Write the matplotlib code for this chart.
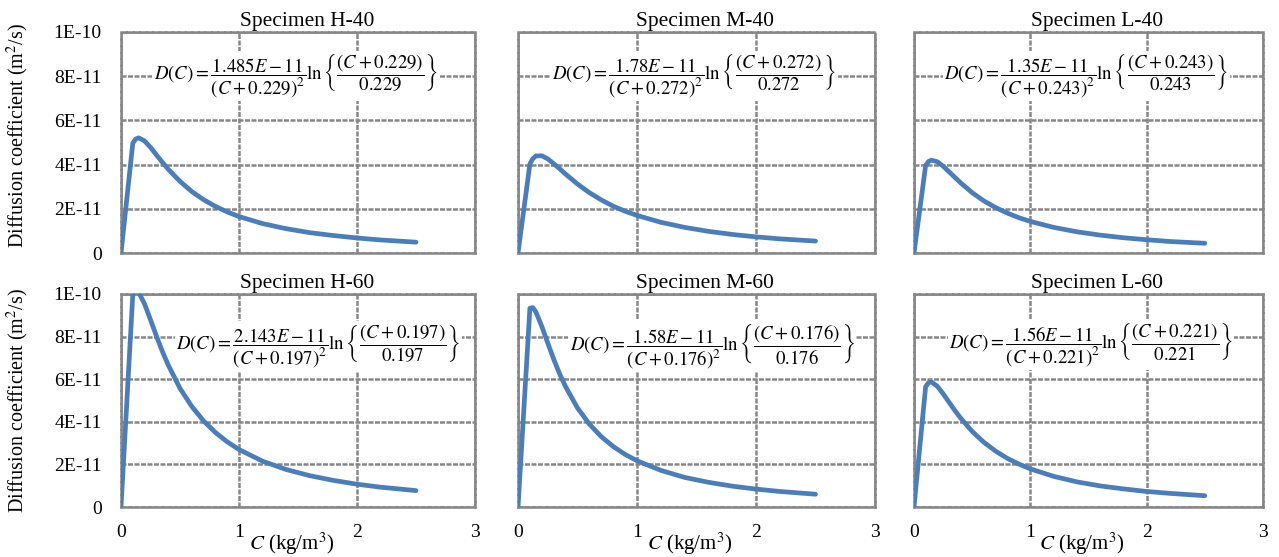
import numpy as np
import matplotlib
matplotlib.use("Agg")
import matplotlib.pyplot as plt

plt.rcParams['font.family'] = ['Liberation Serif', 'DejaVu Serif']
plt.rcParams['mathtext.fontset'] = 'stix'

# concentration C (kg/m3)
conc = [0, 0.1, 0.125, 0.15, 0.2, 0.25, 0.3, 0.35, 0.4, 0.5, 0.6, 0.7, 0.8, 0.9,
        1.0, 1.2, 1.4, 1.6, 1.8, 2.0, 2.2, 2.5]

# diffusion coefficient, in units of 1E-11 m2/s
d_h40 = [0, 4.97, 5.16, 5.21, 5.07, 4.78, 4.44, 4.11, 3.79, 3.24, 2.78, 2.41, 2.11, 1.86,
         1.65, 1.33, 1.10, 0.92, 0.79, 0.68, 0.59, 0.49]
d_m40 = [0, 4.03, 4.27, 4.39, 4.40, 4.26, 4.04, 3.81, 3.57, 3.12, 2.73, 2.40, 2.12, 1.89,
         1.70, 1.39, 1.16, 0.98, 0.84, 0.73, 0.64, 0.54]
d_l40 = [0, 3.96, 4.14, 4.20, 4.13, 3.93, 3.68, 3.43, 3.18, 2.73, 2.36, 2.06, 1.81, 1.60,
         1.43, 1.16, 0.96, 0.81, 0.69, 0.60, 0.52, 0.44]
d_h60 = [0, 9.97, 10.16, 10.08, 9.53, 8.79, 8.03, 7.31, 6.67, 5.57, 4.72, 4.04, 3.50, 3.06,
         2.70, 2.15, 1.76, 1.47, 1.25, 1.07, 0.93, 0.77]
d_m60 = [0, 9.33, 9.36, 9.16, 8.48, 7.70, 6.94, 6.25, 5.65, 4.65, 3.89, 3.30, 2.84, 2.47,
         2.17, 1.72, 1.39, 1.16, 0.98, 0.84, 0.73, 0.60]
d_l60 = [0, 5.65, 5.84, 5.87, 5.67, 5.32, 4.93, 4.54, 4.18, 3.55, 3.04, 2.63, 2.29, 2.02,
         1.79, 1.44, 1.18, 0.99, 0.85, 0.73, 0.64, 0.53]

titles = ["Specimen H-40", "Specimen M-40", "Specimen L-40",
          "Specimen H-60", "Specimen M-60", "Specimen L-60"]
coef_a = ["1.485", "1.78", "1.35", "2.143", "1.58", "1.56"]
coef_b = ["0.229", "0.272", "0.243", "0.197", "0.176", "0.221"]
series = [d_h40, d_m40, d_l40, d_h60, d_m60, d_l60]

yticks = [0, 2e-11, 4e-11, 6e-11, 8e-11, 1e-10]
ytick_labels = ["0", "2E-11", "4E-11", "6E-11", "8E-11", "1E-10"]
xticks = [0, 1, 2, 3]

W, H = 1279, 557
fig = plt.figure(figsize=(W / 100, H / 100), dpi=100)

# panel boxes in pixels: (left, right) and (top, bottom)
cols = [(121, 475), (518, 875), (914, 1263)]
rows = [(32, 253), (294, 507)]
# equation centre in data coords (x, y)
eq_pos = [(1.48, 8e-11), (1.48, 8e-11), (1.48, 8e-11),
          (1.67, 7.55e-11), (1.63, 7.55e-11), (1.52, 7.6e-11)]

grid_col = "#878787"
line_col = "#4a7ebb"
dash = (0, (2.0, 0.6))

for k in range(6):
    r, c = divmod(k, 3)
    x0, x1 = cols[c]
    y0, y1 = rows[r]
    ax = fig.add_axes([x0 / W, 1 - y1 / H, (x1 - x0) / W, (y1 - y0) / H])

    ax.plot(conc, np.array(series[k]) * 1e-11, color=line_col, linewidth=3.4,
            solid_capstyle='round', solid_joinstyle='round', zorder=3)

    ax.set_xlim(0, 3)
    ax.set_ylim(0, 1e-10)
    ax.set_yticks(yticks)
    ax.set_xticks(xticks)
    ax.grid(True, color=grid_col, linestyle=dash, linewidth=1.8, zorder=0)
    for s in ['top', 'left', 'right']:
        ax.spines[s].set_color(grid_col)
        ax.spines[s].set_linestyle(dash)
        ax.spines[s].set_linewidth(1.8)
    ax.spines['bottom'].set_color(grid_col)
    ax.spines['bottom'].set_linewidth(1.8)
    ax.tick_params(length=0, labelsize=14, pad=6)

    if c == 0:
        ax.set_yticklabels(ytick_labels)
        ax.tick_params(axis='y', pad=14)
    else:
        ax.set_yticklabels([])
    if r == 1:
        ax.set_xticklabels([str(v) for v in xticks])
        ax.tick_params(axis='x', pad=12)
    else:
        ax.set_xticklabels([])

    ax.set_title(titles[k], fontsize=15.5, x=0.525, pad=4)

    a = coef_a[k]
    b = coef_b[k]
    eq = (r"$D(C)=\dfrac{" + a + r"E-11}{(C+" + b + r")^2}\ln\left\{\dfrac{(C+" + b +
          r")}{" + b + r"}\right\}$")
    ax.text(eq_pos[k][0], eq_pos[k][1], eq, fontsize=13.5, ha='center', va='center', zorder=4,
            bbox=dict(facecolor='white', edgecolor='none', pad=1.0))

    if r == 1:
        fig.text((x0 + x1) / 2 / W - 0.005, 1 - 544 / H, r"$C$ (kg/m$^3$)",
                 fontsize=15, ha='center', va='center')

fig.text(18 / W, 1 - 135 / H, "Diffusion coefficient (m$^2$/s)", rotation=90,
         fontsize=14.5, ha='center', va='center')
fig.text(18 / W, 1 - 400 / H, "Diffusion coefficient (m$^2$/s)", rotation=90,
         fontsize=14.5, ha='center', va='center')

fig.savefig("out.png", dpi=100, facecolor='white')
